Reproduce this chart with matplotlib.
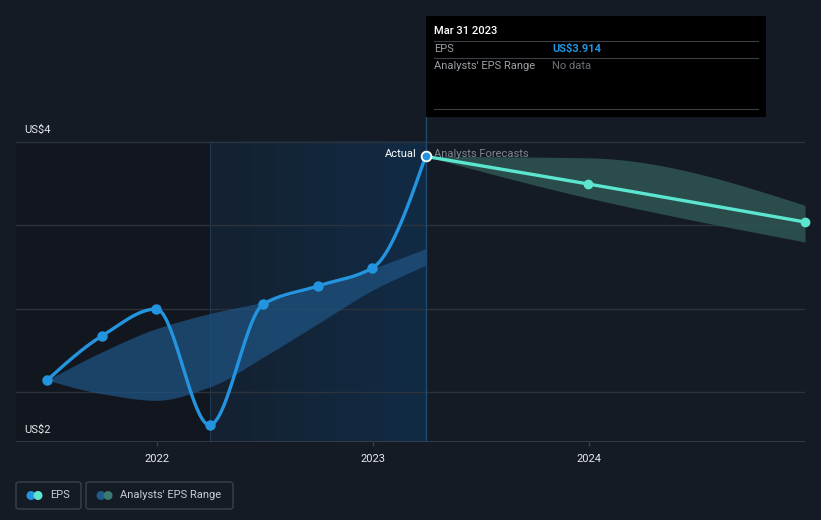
import numpy as np
import pandas as pd
import matplotlib
matplotlib.use("Agg")
import matplotlib.pyplot as plt
import matplotlib.dates as mdates
from matplotlib.patches import FancyBboxPatch, Rectangle, Ellipse
from matplotlib.colors import LinearSegmentedColormap

plt.rcParams["font.family"] = ["Roboto", "DejaVu Sans"]

# ---- data ----
eps_dates = ["2021-06-30", "2021-09-30", "2021-12-31", "2022-03-31",
             "2022-06-30", "2022-09-30", "2022-12-31", "2023-03-31"]
eps_values = [2.572, 2.836, 2.998, 2.302, 3.028, 3.136, 3.244, 3.914]

past_range_upper = [2.572, 2.74, 2.88, 2.97, 3.04, 3.13, 3.24, 3.36]
past_range_lower = [2.572, 2.49, 2.45, 2.53, 2.71, 2.91, 3.11, 3.26]

fc_dates = ["2023-03-31", "2023-12-31", "2024-12-31"]
fc_values = [3.914, 3.748, 3.52]
fc_upper = [3.914, 3.905, 3.62]
fc_lower = [3.914, 3.664, 3.40]

tick_years = ["2022", "2023", "2024"]

# ---- colours ----
BG = "#151b24"
DARK = "#12171f"
GRID = "#2c333d"
EPS_C = "#2394df"
FC_C = "#5ce6cf"
BAND_C = "#1f5280"
FC_BAND = "#2e5654"

W, H = 821, 520


def px(x, y):
    """pixel (from top-left) -> figure fraction"""
    return x / W, 1 - y / H


def monotone(x, y, n=300):
    # monotone cubic hermite (like d3 curveMonotoneX)
    x = np.asarray(x, float)
    y = np.asarray(y, float)
    h = np.diff(x)
    d = np.diff(y) / h
    m = np.zeros_like(y)
    for i in range(1, len(y) - 1):
        if d[i - 1] * d[i] <= 0:
            m[i] = 0
        else:
            w1 = 2 * h[i] + h[i - 1]
            w2 = h[i] + 2 * h[i - 1]
            m[i] = (w1 + w2) / (w1 / d[i - 1] + w2 / d[i])
    m[0] = (3 * d[0] - m[1]) / 2 if len(y) > 2 else d[0]
    m[-1] = (3 * d[-1] - m[-2]) / 2 if len(y) > 2 else d[-1]
    xs, ys = [], []
    for i in range(len(h)):
        t = np.linspace(0, 1, n)
        h00 = 2 * t**3 - 3 * t**2 + 1
        h10 = t**3 - 2 * t**2 + t
        h01 = -2 * t**3 + 3 * t**2
        h11 = t**3 - t**2
        xs.append(x[i] + t * h[i])
        ys.append(h00 * y[i] + h10 * h[i] * m[i] + h01 * y[i + 1] + h11 * h[i] * m[i + 1])
    return np.concatenate(xs), np.concatenate(ys)


ex = mdates.date2num(pd.to_datetime(eps_dates))
fx = mdates.date2num(pd.to_datetime(fc_dates))

fig = plt.figure(figsize=(W / 100, H / 100), dpi=100, facecolor=BG)
ax = fig.add_axes([16 / W, (H - 442) / H, (805 - 16) / W, 442 / H])
ax.set_facecolor(BG)

x_left = mdates.date2num(pd.Timestamp("2021-05-08"))
x_right = mdates.date2num(pd.Timestamp("2024-12-31"))
ax.set_xlim(x_left, x_right)
ax.set_ylim(2.2, 4 + 142 / 166.67)

hl_start = mdates.date2num(pd.Timestamp("2022-03-31"))
hl_end = ex[-1]
y_top_hl = 4.0

# darker past region
ax.add_patch(Rectangle((x_left, 2.2), hl_start - x_left, y_top_hl - 2.2,
                       facecolor=DARK, edgecolor="none", zorder=0))
# highlighted last-year region with gradient
cmap = LinearSegmentedColormap.from_list("hl", ["#142130", "#112b45"])
ax.imshow(np.linspace(0, 1, 100).reshape(1, -1), cmap=cmap, aspect="auto",
          extent=[hl_start, hl_end, 2.2, y_top_hl], zorder=0.5)
ax.plot([hl_start, hl_start], [2.2, y_top_hl], color="#1d3a55", lw=0.8, zorder=1)

# gridlines
for gv in [4.0, 3.5, 3.0, 2.5]:
    ax.axhline(gv, color=GRID, lw=1, zorder=1)
ax.axhline(2.2, color="#3a414b", lw=1.2, zorder=1)

# past range band
bx, bu = monotone(ex, past_range_upper)
_, bl = monotone(ex, past_range_lower)
ax.fill_between(bx, bl, bu, color=BAND_C, alpha=0.75, lw=0, zorder=2)

# forecast band
fbx, fbu = monotone(fx, fc_upper)
_, fbl = monotone(fx, fc_lower)
ax.fill_between(fbx, fbl, fbu, color=FC_BAND, alpha=0.85, lw=0, zorder=2)

# vertical line at latest actual
ax.plot([ex[-1], ex[-1]], [2.2, 4.852 - 117 / 166.67], color="#1e4a70", lw=1, zorder=1)

# EPS line
lx, ly = monotone(ex, eps_values)
ax.plot(lx, ly, color=EPS_C, lw=2.4, zorder=4, solid_capstyle="round")
ax.plot(ex[:-1], eps_values[:-1], "o", color=EPS_C, ms=6.5, zorder=5)

# forecast line
flx, fly = monotone(fx, fc_values)
ax.plot(flx, fly, color=FC_C, lw=2.4, zorder=4, solid_capstyle="round")
ax.plot(fx[1:], fc_values[1:], "o", color=FC_C, ms=6, zorder=5, clip_on=False)

ax.plot(ex[-1], eps_values[-1], "o", color=EPS_C, ms=7, mec="white", mew=1.3, zorder=6)

# x ticks
ticks = mdates.date2num(pd.to_datetime([y + "-01-01" for y in tick_years]))
ax.set_xticks(ticks)
ax.set_xticklabels(tick_years)
ax.tick_params(axis="x", colors="#3a414b", length=3, width=1, labelcolor="#e6e8eb",
               labelsize=8, pad=6)
ax.set_yticks([])
for s in ax.spines.values():
    s.set_visible(False)

# y labels
fig.text(*px(24, 130), "US$4", color="#e6e8eb", fontsize=8, va="center", ha="left")
fig.text(*px(24, 430), "US$2", color="#e6e8eb", fontsize=8, va="center", ha="left")

# Actual / forecast labels
fig.text(*px(417, 154), "Actual", color="white", fontsize=8, va="center", ha="right")
fig.text(*px(434, 154), "Analysts Forecasts", color="#80868e", fontsize=8,
         va="center", ha="left")

# tooltip
x0, y0 = px(426, 117)
x1, y1 = px(766, 16)
fig.patches.append(Rectangle((x0, y0), x1 - x0, y1 - y0, transform=fig.transFigure,
                             facecolor="black", edgecolor="none", zorder=10))
fig.text(*px(434, 31), "Mar 31 2023", color="white", fontsize=8, fontweight="medium",
         va="center", ha="left", zorder=11)
for ly_ in [41, 58, 109]:
    a, b = px(434, ly_)
    c, _ = px(758, ly_)
    fig.add_artist(plt.Line2D([a, c], [b, b], transform=fig.transFigure,
                              color="#3a3f45", lw=0.8, zorder=11))
fig.text(*px(434, 49), "EPS", color="#9aa0a6", fontsize=8, va="center", ha="left", zorder=11)
fig.text(*px(552, 49), "US$3.914", color=EPS_C, fontsize=8, fontweight="bold",
         va="center", ha="left", zorder=11)
fig.text(*px(434, 66), "Analysts' EPS Range", color="#9aa0a6", fontsize=8,
         va="center", ha="left", zorder=11)
fig.text(*px(552, 66), "No data", color="#6b7077", fontsize=8, va="center",
         ha="left", zorder=11)


# legend
def legend_box(xa, xb, label, c1, c2):
    a, b = px(xa, 509)
    c, d = px(xb, 482)
    fig.patches.append(FancyBboxPatch((a, b), c - a, d - b, transform=fig.transFigure,
                                      boxstyle="round,pad=0,rounding_size=0.004",
                                      facecolor="none", edgecolor="#3a414b", lw=1))
    for cx, col in [(xa + 15, c1), (xa + 22, c2)]:
        ccx, ccy = px(cx, 495.5)
        fig.patches.append(Ellipse((ccx, ccy), 9 / W, 9 / H, transform=fig.transFigure,
                                   facecolor=col, edgecolor="none"))
    fig.text(*px(xa + 34, 495.5), label, color="#c9cdd2", fontsize=8,
             va="center", ha="left")


legend_box(16, 81, "EPS", EPS_C, FC_C)
legend_box(86, 233, "Analysts' EPS Range", "#1f5a8a", "#3a7a70")

fig.savefig("out.png", dpi=100, facecolor=BG)
